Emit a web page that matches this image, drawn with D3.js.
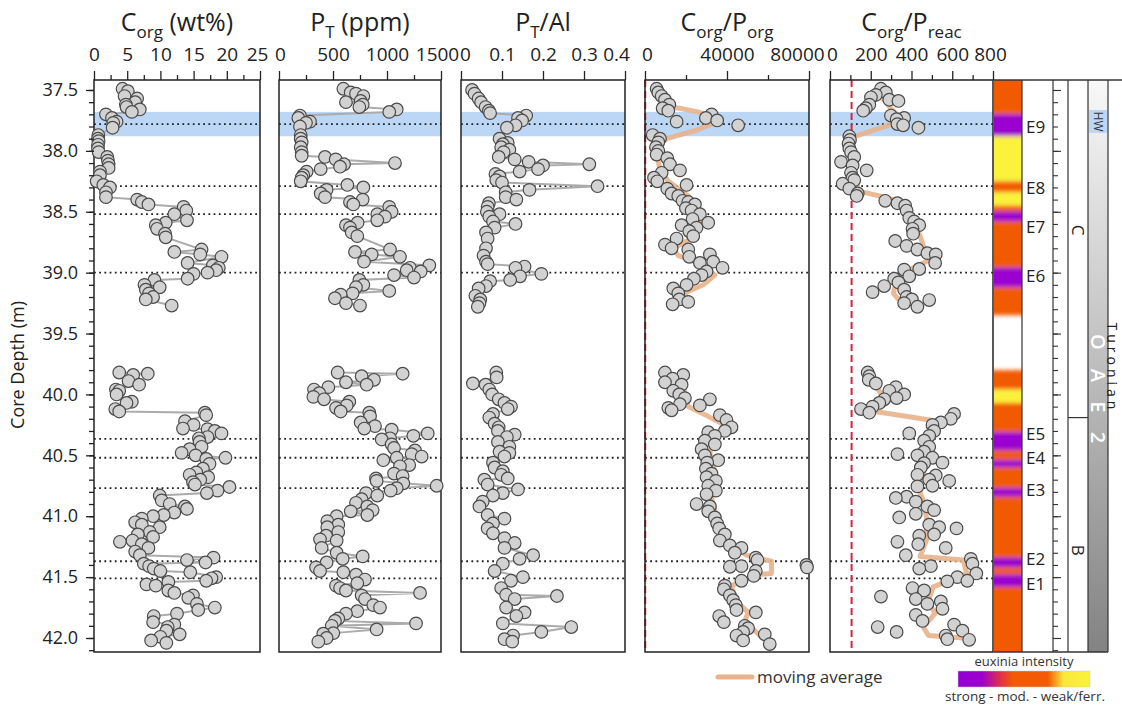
<!DOCTYPE html>
<html>
<head>
<meta charset="utf-8">
<script src="https://cdn.jsdelivr.net/npm/d3@7"></script>
<style>
body { margin: 0; background: #fff; }
svg { font-family: "Open Sans", sans-serif; }
</style>
</head>
<body>
<svg id="chart" width="1122" height="706"></svg>
<script>
// ---- data (depth in m) ----
var corgDepth = [37.49,37.51,37.55,37.57,37.60,37.62,37.64,37.66,37.68,37.70,37.73,37.76,37.77,37.81,37.87,37.90,37.92,37.95,37.98,38.01,38.05,38.08,38.11,38.14,38.17,38.20,38.25,38.28,38.30,38.34,38.38,38.40,38.42,38.44,38.46,38.49,38.52,38.57,38.59,38.61,38.64,38.68,38.71,38.81,38.83,38.85,38.87,38.92,38.94,38.96,38.98,39.00,39.01,39.05,39.06,39.10,39.12,39.14,39.17,39.20,39.22,39.27,
  39.82,39.83,39.84,39.89,39.92,39.96,39.97,40.00,40.06,40.07,40.12,40.14,40.15,40.17,40.22,40.25,40.28,40.285,40.30,40.32,40.35,40.36,40.39,40.43,40.45,40.48,40.50,40.52,40.53,40.57,40.61,40.64,40.66,40.68,40.70,40.72,40.74,40.76,40.79,40.81,40.83,40.87,40.90,40.92,40.94,40.97,40.99,41.00,41.02,41.05,41.07,41.09,41.13,41.15,41.17,41.20,41.21,41.23,41.26,41.29,41.32,41.34,41.36,41.38,41.39,41.41,41.43,41.45,41.46,41.50,41.51,41.53,41.54,41.56,41.57,41.61,41.63,41.65,41.67,41.72,41.75,41.77,41.80,41.82,41.87,41.89,41.91,41.94,41.97,41.99,42.02,42.04];
var corgVal = [4.3,5.1,4.6,6.5,6.2,4.8,4.9,6.9,5.7,1.8,2.7,3.4,2.9,2.8,0.65,0.6,0.7,0.6,0.6,0.7,2.0,2.1,2.2,2.2,0.9,0.9,0.4,1.4,2.4,1.8,1.8,6.5,7.2,8.2,13.5,13.9,12.1,14.0,10.8,9.3,9.5,10.7,10.8,16.2,12.1,16.0,19.2,14.1,17.9,18.8,18.4,17.1,15.0,14.1,9.1,7.6,9.9,7.8,8.3,8.9,7.8,11.7,
  3.8,8.1,5.9,5.2,6.8,3.3,3.8,3.4,5.7,4.9,3.2,3.8,16.7,16.9,13.7,15.0,13.4,17.1,18.2,19.2,17.1,15.8,15.9,16.2,14.4,13.2,15.3,19.8,16.9,17.4,16.4,15.4,14.4,17.2,16.0,14.9,15.2,20.4,18.6,17.0,9.9,10.2,11.4,13.7,14.0,12.1,10.5,8.9,7.2,6.2,7.2,9.9,8.4,6.6,8.9,5.8,3.9,7.2,8.2,6.2,6.9,18.0,14.0,16.8,7.5,8.3,9.0,10.0,14.5,18.4,17.7,16.9,11.2,7.9,9.3,11.2,12.1,14.9,14.2,15.5,18.2,15.7,12.5,9.0,8.9,12.1,11.1,10.9,12.9,10.0,8.6,10.9];

var ptDepth = [37.49,37.52,37.53,37.55,37.59,37.60,37.62,37.64,37.66,37.68,37.71,37.73,37.76,37.77,37.80,37.87,37.90,37.93,37.97,38.01,38.04,38.05,38.07,38.10,38.11,38.13,38.15,38.17,38.20,38.22,38.25,38.28,38.30,38.32,38.35,38.38,38.40,38.42,38.44,38.46,38.50,38.52,38.54,38.57,38.59,38.61,38.63,38.67,38.70,38.81,38.83,38.85,38.87,38.91,38.94,38.96,38.98,38.99,39.02,39.04,39.06,39.10,39.12,39.15,39.17,39.18,39.21,39.25,39.27,
  39.82,39.83,39.85,39.88,39.90,39.92,39.94,39.96,39.99,40.02,40.04,40.06,40.09,40.11,40.14,40.15,40.18,40.23,40.26,40.28,40.29,40.32,40.34,40.36,40.37,40.41,40.44,40.46,40.49,40.51,40.52,40.54,40.58,40.59,40.65,40.67,40.69,40.71,40.73,40.75,40.77,40.79,40.81,40.83,40.86,40.89,40.92,40.95,40.96,40.99,41.00,41.04,41.07,41.09,41.13,41.16,41.19,41.20,41.26,41.30,41.33,41.35,41.38,41.42,41.45,41.46,41.48,41.52,41.55,41.57,41.59,41.61,41.63,41.65,41.68,41.73,41.75,41.78,41.80,41.84,41.86,41.88,41.90,41.93,41.96,41.965,42.00,42.03];
var ptVal = [596,664,713,781,756,620,775,744,1090,1021,194,179,287,250,194,201,201,210,201,210,210,426,525,1074,602,565,386,256,225,210,201,633,781,441,386,426,775,657,688,1021,1043,910,981,910,728,620,657,673,725,1028,704,858,1120,787,1392,1213,1182,1312,1065,1250,744,781,713,1021,682,571,518,620,750,
  543,1145,765,880,620,812,457,324,373,318,417,651,627,528,571,836,843,756,889,790,1043,1377,1244,1028,951,1043,1065,1259,1228,1321,1090,966,1206,1120,1065,1145,898,904,1151,1460,1090,1034,806,910,765,713,818,867,664,818,534,447,549,447,549,436,380,534,395,534,775,590,441,343,380,596,713,796,725,528,565,620,1306,765,796,873,935,725,620,549,518,1269,488,904,503,410,441,364];

var alDepth = [37.50,37.53,37.57,37.60,37.64,37.67,37.69,37.71,37.73,37.75,37.79,37.81,37.90,37.935,37.945,37.97,37.99,38.01,38.05,38.07,38.09,38.11,38.12,38.15,38.17,38.19,38.21,38.24,38.26,38.29,38.32,38.34,38.38,38.40,38.43,38.46,38.50,38.52,38.54,38.58,38.60,38.63,38.67,38.72,38.80,38.86,38.91,38.93,38.95,38.96,39.01,39.03,39.06,39.07,39.11,39.13,39.19,39.22,39.25,39.28,
  39.82,39.86,39.91,39.92,39.96,40.00,40.04,40.07,40.10,40.12,40.16,40.19,40.24,40.27,40.30,40.33,40.35,40.39,40.43,40.47,40.48,40.51,40.56,40.60,40.63,40.66,40.69,40.70,40.74,40.78,40.81,40.83,40.88,40.92,40.99,41.02,41.06,41.10,41.14,41.18,41.22,41.26,41.32,41.35,41.39,41.45,41.50,41.53,41.59,41.645,41.655,41.68,41.75,41.79,41.82,41.88,41.91,41.95,41.98,42.01,42.03];
var alVal = [0.027,0.033,0.043,0.049,0.060,0.068,0.071,0.159,0.139,0.149,0.133,0.112,0.094,0.114,0.102,0.098,0.118,0.104,0.092,0.131,0.165,0.313,0.200,0.188,0.143,0.084,0.094,0.086,0.100,0.333,0.167,0.109,0.109,0.135,0.068,0.065,0.063,0.094,0.069,0.078,0.133,0.082,0.061,0.065,0.061,0.055,0.061,0.065,0.155,0.133,0.196,0.144,0.120,0.071,0.061,0.043,0.035,0.047,0.045,0.041,
  0.086,0.087,0.029,0.060,0.069,0.076,0.092,0.106,0.122,0.114,0.078,0.069,0.082,0.092,0.090,0.131,0.112,0.090,0.118,0.094,0.118,0.106,0.078,0.082,0.102,0.098,0.114,0.057,0.065,0.139,0.102,0.078,0.053,0.045,0.065,0.106,0.078,0.065,0.078,0.106,0.131,0.106,0.176,0.143,0.102,0.082,0.151,0.122,0.098,0.110,0.234,0.131,0.110,0.155,0.135,0.102,0.269,0.196,0.127,0.106,0.125];

var cpoDepth = [37.49,37.52,37.55,37.58,37.62,37.65,37.67,37.70,37.73,37.75,37.76,37.79,37.87,37.90,37.93,37.97,38.00,38.03,38.06,38.11,38.16,38.18,38.22,38.25,38.28,38.31,38.35,38.37,38.41,38.42,38.44,38.47,38.49,38.52,38.56,38.59,38.61,38.63,38.66,38.70,38.72,38.77,38.80,38.81,38.85,38.87,38.91,38.92,38.96,38.99,39.02,39.05,39.10,39.13,39.17,39.22,39.24,39.26,
  39.82,39.84,39.87,39.90,39.92,39.97,40.00,40.03,40.04,40.08,40.09,40.11,40.13,40.17,40.21,40.27,40.30,40.31,40.34,40.38,40.41,40.45,40.50,40.54,40.56,40.61,40.65,40.68,40.71,40.75,40.79,40.82,40.90,40.92,40.96,41.01,41.06,41.10,41.15,41.20,41.24,41.26,41.30,41.34,41.36,41.40,41.41,41.415,41.42,41.45,41.49,41.53,41.57,41.60,41.65,41.69,41.73,41.77,41.79,41.82,41.87,41.90,41.92,41.95,41.97,41.98,42.02,42.05];
var cpoVal = [5680,6490,8115,9740,11850,8600,11360,32460,29700,35200,15420,45440,3730,7300,6490,5360,6490,5680,10870,12170,17040,8115,4380,6000,20290,10870,12980,16230,18340,21100,24350,19960,22720,26780,23210,30840,17850,25160,21590,23530,15420,9740,12980,21100,31650,21590,33270,26780,37820,30030,27590,23860,20290,13800,16230,16720,21100,13470,
  9740,18660,13470,9740,17850,13800,16720,19480,31650,17040,26780,11360,12980,36520,39760,42200,38950,30840,34080,29210,34080,27590,29210,35700,30350,29700,32460,30030,34570,30840,34570,30030,25160,31650,30840,34080,35200,36190,38950,36520,41390,47070,43820,54050,54860,78720,47070,41390,79040,54050,53070,47070,38950,38460,41390,43010,44310,44630,54050,36190,38460,48690,50310,47880,58430,44630,47880,60860];
var cpoAvgDepth = [37.49,37.64,37.68,37.75,37.83,37.90,37.97,38.15,38.25,38.37,38.59,38.72,38.80,38.86,38.91,39.02,39.10,39.16,39.25,
  39.82,39.86,40.02,40.10,40.18,40.26,40.35,40.48,40.63,40.73,40.85,40.98,41.20,41.32,41.37,41.47,41.48,41.57,41.70,41.79,41.86,41.98];
var cpoAvg = [5680,13470,25970,36520,25160,10550,4870,7300,11360,21100,27590,22720,13800,16230,24350,34080,28400,20290,17850,
  17040,18660,19480,21100,30840,39760,33270,31650,34080,32460,32460,34570,39760,49500,61670,61670,54370,42200,44630,50310,48690,55990];

var cprDepth = [37.49,37.52,37.54,37.56,37.58,37.59,37.62,37.65,37.67,37.71,37.73,37.74,37.78,37.79,37.81,37.88,37.91,37.94,37.98,38.01,38.05,38.09,38.12,38.16,38.18,38.22,38.24,38.27,38.31,38.35,38.37,38.41,38.43,38.45,38.49,38.55,38.58,38.61,38.64,38.68,38.74,38.78,38.81,38.84,38.85,38.92,38.97,38.975,39.03,39.05,39.08,39.11,39.14,39.16,39.20,39.22,39.225,39.25,39.28,
  39.82,39.85,39.88,39.91,39.94,39.97,40.00,40.03,40.04,40.07,40.10,40.12,40.15,40.16,40.20,40.23,40.25,40.30,40.32,40.34,40.38,40.43,40.47,40.49,40.50,40.52,40.56,40.565,40.60,40.66,40.665,40.70,40.71,40.75,40.755,40.84,40.85,40.88,40.92,40.95,40.98,41.01,41.07,41.09,41.10,41.15,41.16,41.21,41.23,41.26,41.32,41.35,41.39,41.41,41.43,41.47,41.50,41.53,41.535,41.59,41.61,41.66,41.68,41.70,41.72,41.76,41.81,41.86,41.89,41.91,41.94,41.95,41.98,42.01,42.015];
var cprVal = [250,274,225,201,291,336,193,176,163,299,364,327,331,359,434,95,98,91,95,103,119,54,111,180,103,111,119,62,95,136,131,271,331,369,376,389,413,438,405,408,320,376,429,478,519,516,438,364,389,315,336,266,364,209,376,402,487,364,429,
  185,193,190,225,323,291,364,327,266,242,209,152,193,609,593,544,503,511,389,487,462,487,462,331,429,503,552,462,446,429,519,487,585,503,429,376,323,421,478,511,421,340,487,536,621,511,438,331,433,568,372,691,699,495,438,718,625,674,576,405,462,250,421,544,478,552,421,454,609,234,650,327,568,576,683];
var cprAvgDepth = [37.56,37.66,37.75,37.88,37.97,38.07,38.33,38.38,38.43,38.57,38.70,38.90,39.00,39.06,39.17,39.25,
  39.83,39.96,40.07,40.14,40.21,40.35,40.48,40.65,40.81,40.87,41.03,41.19,41.33,41.36,41.47,41.58,41.69,41.80,41.91,41.98,42.00];
var cprAvg = [254,303,360,123,98,106,139,270,360,409,442,483,360,327,311,352,
  196,237,278,221,491,507,442,458,442,458,475,475,442,654,671,507,483,515,458,483,654];

// euxinia strip intervals (top, base, class)
var euxTop = [37.30,37.70,37.88,38.25,38.34,38.45,38.50,38.58,38.96,39.12,39.80,39.96,40.07,40.31,40.46,40.54,40.60,40.77,40.84,41.34,41.42,41.48,41.58];
var euxBase = [37.70,37.88,38.25,38.34,38.45,38.50,38.58,38.96,39.12,39.35,39.96,40.07,40.31,40.46,40.54,40.60,40.77,40.84,41.34,41.42,41.48,41.58,42.30];
var euxClass = ["mod","strong","weak","mod","weak","mod","strong","mod","strong","mod","mod","weak","mod","strong","mod","strong","mod","strong","mod","strong","mod","strong","mod"];

var eventDepth = [37.78,38.29,38.52,39.00,40.365,40.52,40.77,41.37,41.51];
var eventName = ["E9","E8","E7","E6","E5","E4","E3","E2","E1"];
var eventLabelDepth = [37.80,38.30,38.62,39.02,40.32,40.52,40.78,41.35,41.55];
var hwBand = [37.68, 37.88];
var redfield = 106;
var unitBase = [40.19, 42.115];
var unitName = ["C", "B"];

// ---- layout ----
var svg = d3.select("#chart");
var plotTop = 80, plotBottom = 652;
var y = d3.scaleLinear().domain([37.418, 42.115]).range([plotTop, plotBottom]);

var euxColor = { strong: "#9a00cf", mod: "#f25a05", weak: "#faf23a" };

function pts(depth, val) {
  return depth.map(function(d, i) { return { d: d, v: val[i] }; });
}
function segments(arr) {
  var out = [[]];
  arr.forEach(function(p, i) {
    if (i > 0 && p.d - arr[i - 1].d > 0.3) out.push([]);
    out[out.length - 1].push(p);
  });
  return out;
}

var panels = [
  { x0: 94, x1: 260, max: 25, labels: [0,5,10,15,20,25], minor: [2.5,7.5,12.5,17.5,22.5], shift: [0, -3],
    title: [["C",0],["org",1],[" (wt%)",0]], data: pts(corgDepth, corgVal), link: true },
  { x0: 279, x1: 441, max: 1500, labels: [0,500,1000,1500], minor: [250,750,1250], shift: [1, -4],
    title: [["P",0],["T",1],[" (ppm)",0]], data: pts(ptDepth, ptVal), link: true },
  { x0: 461, x1: 625, max: 0.4, labels: [0,0.1,0.2,0.3,0.4], minor: [], shift: [4, -9],
    title: [["P",0],["T",1],["/Al",0]], data: pts(alDepth, alVal), link: true },
  { x0: 645, x1: 809, max: 80000, labels: [0,40000,80000], minor: [20000,60000], shift: [2, -12],
    title: [["C",0],["org",1],["/P",0],["org",1]], data: pts(cpoDepth, cpoVal),
    avg: pts(cpoAvgDepth, cpoAvg), red: true },
  { x0: 830, x1: 993, max: 800, labels: [0,200,400,600,800], minor: [100,300,500,700], shift: [2, -3],
    title: [["C",0],["org",1],["/P",0],["reac",1]], data: pts(cprDepth, cprVal),
    avg: pts(cprAvgDepth, cprAvg), red: true }
];

var defs = svg.append("defs");
defs.append("filter").attr("id", "blurY")
  .attr("x", "-0.1").attr("y", "-0.1").attr("width", "1.2").attr("height", "1.2")
  .append("feGaussianBlur").attr("stdDeviation", "0 2.2");
defs.append("clipPath").attr("id", "stripClip")
  .append("rect").attr("x", 994).attr("y", plotTop).attr("width", 28).attr("height", plotBottom - plotTop);
var gGray = defs.append("linearGradient").attr("id", "grayGrad")
  .attr("x1", 0).attr("y1", 0).attr("x2", 0).attr("y2", 1);
gGray.append("stop").attr("offset", "0%").attr("stop-color", "#f8f8f8");
gGray.append("stop").attr("offset", "100%").attr("stop-color", "#838383");
var gEux = defs.append("linearGradient").attr("id", "euxGrad");
[["0%","#9400d3"],["18%","#9c00cc"],["32%","#e0304a"],["42%","#f25a05"],["68%","#f25a05"],["80%","#fbe83a"],["100%","#faf23a"]]
  .forEach(function(s) { gEux.append("stop").attr("offset", s[0]).attr("stop-color", s[1]); });

var line = d3.line().x(function(p) { return p.x; }).y(function(p) { return y(p.d); });

panels.forEach(function(P) {
  var x = d3.scaleLinear().domain([0, P.max]).range([P.x0, P.x1]);
  var g = svg.append("g");
  var w = P.x1 - P.x0;

  g.append("rect").attr("x", P.x0).attr("width", w)
    .attr("y", y(hwBand[0])).attr("height", y(hwBand[1]) - y(hwBand[0]))
    .attr("fill", "#bcd6f5");

  g.selectAll(".ev").data(eventDepth).enter().append("line")
    .attr("x1", P.x0).attr("x2", P.x1)
    .attr("y1", function(d) { return y(d); }).attr("y2", function(d) { return y(d); })
    .attr("stroke", "#222").attr("stroke-width", 1.8).attr("stroke-dasharray", "1.8,3.4");

  if (P.red) {
    g.append("line").attr("x1", x(redfield)).attr("x2", x(redfield))
      .attr("y1", plotTop).attr("y2", plotBottom)
      .attr("stroke", "#d2263a").attr("stroke-width", 2).attr("stroke-dasharray", "7,4");
  }

  g.append("rect").attr("x", P.x0).attr("y", plotTop).attr("width", w).attr("height", plotBottom - plotTop)
    .attr("fill", "none").attr("stroke", "#222").attr("stroke-width", 1.5);

  if (P.avg) {
    segments(P.avg).forEach(function(seg) {
      g.append("path").datum(seg.map(function(p) { return { x: x(p.v), d: p.d }; }))
        .attr("d", line).attr("fill", "none").attr("stroke", "#e8b28c")
        .attr("stroke-width", 5).attr("stroke-linejoin", "round").attr("stroke-linecap", "round")
        .attr("opacity", 0.9);
    });
  }
  if (P.link) {
    segments(P.data).forEach(function(seg) {
      g.append("path").datum(seg.map(function(p) { return { x: x(p.v), d: p.d }; }))
        .attr("d", line).attr("fill", "none").attr("stroke", "#ababab").attr("stroke-width", 2);
    });
  }
  g.selectAll("circle").data(P.data).enter().append("circle")
    .attr("cx", function(p) { return x(p.v); })
    .attr("cy", function(p) { return y(p.d); })
    .attr("r", 6.3).attr("fill", "#d2d2d2").attr("stroke", "#4a4a4a").attr("stroke-width", 1.2);

  // top axis
  var minorAx = d3.axisTop(x).tickValues(P.minor).tickSize(5).tickSizeOuter(0).tickFormat("");
  var majorAx = d3.axisTop(x).tickValues(P.labels).tickSize(9).tickSizeOuter(0).tickPadding(10)
    .tickFormat(function(d) { return String(d); });
  [minorAx, majorAx].forEach(function(ax) {
    var a = svg.append("g").attr("transform", "translate(0," + plotTop + ")").call(ax);
    a.select(".domain").remove();
    a.selectAll("line").attr("stroke", "#222").attr("stroke-width", 1.3);
    a.selectAll("text").attr("font-size", 19).attr("fill", "#222").attr("font-family", "Open Sans");
    a.selectAll(".tick").filter(function(d) { return d === 0; }).select("text").attr("x", P.shift[0]);
    a.selectAll(".tick").filter(function(d) { return d === P.max; }).select("text").attr("x", P.shift[1]);
  });

  // title
  var t = svg.append("text").attr("x", (P.x0 + P.x1) / 2).attr("y", 31)
    .attr("text-anchor", "middle").attr("font-size", 25).attr("fill", "#222");
  var sub = false;
  P.title.forEach(function(part) {
    var ts = t.append("tspan").text(part[0]);
    if (part[1] && !sub) { ts.attr("font-size", 17).attr("dy", 7); sub = true; }
    else if (!part[1] && sub) { ts.attr("font-size", 25).attr("dy", -7); sub = false; }
    else if (part[1]) { ts.attr("font-size", 17); }
  });
});

// depth axis
var yMajor = d3.axisLeft(y).tickValues(d3.range(37.5, 42.01, 0.5)).tickSize(8).tickPadding(8)
  .tickFormat(d3.format(".1f"));
var yMinor = d3.axisLeft(y).tickValues(d3.range(37.5, 42.11, 0.1)).tickSize(5).tickFormat("");
[yMinor, yMajor].forEach(function(ax) {
  var a = svg.append("g").attr("transform", "translate(94,0)").call(ax);
  a.select(".domain").remove();
  a.selectAll("line").attr("stroke", "#222").attr("stroke-width", 1.3);
  a.selectAll("text").attr("font-size", 18).attr("fill", "#222").attr("font-family", "Open Sans");
});
svg.append("text").attr("transform", "translate(24,365) rotate(-90)")
  .attr("text-anchor", "middle").attr("font-size", 18).attr("fill", "#222").text("Core Depth (m)");

// euxinia strip
var strip = svg.append("g").attr("clip-path", "url(#stripClip)")
  .append("g").attr("filter", "url(#blurY)");
strip.selectAll("rect").data(euxTop).enter().append("rect")
  .attr("x", 994).attr("width", 28)
  .attr("y", function(d) { return y(d); })
  .attr("height", function(d, i) { return y(euxBase[i]) - y(d); })
  .attr("fill", function(d, i) { return euxColor[euxClass[i]]; });

// right-hand columns
var rc = svg.append("g");
rc.append("rect").attr("x", 1088).attr("y", plotTop).attr("width", 20).attr("height", plotBottom - plotTop)
  .attr("fill", "url(#grayGrad)");
rc.append("rect").attr("x", 1089).attr("y", 110).attr("width", 18).attr("height", 23).attr("fill", "#bcd6f5");
[1022, 1053, 1068, 1088, 1108].forEach(function(xv) {
  rc.append("line").attr("x1", xv).attr("x2", xv).attr("y1", plotTop).attr("y2", plotBottom)
    .attr("stroke", "#333").attr("stroke-width", 1.2);
});
rc.append("line").attr("x1", 994).attr("x2", 1122).attr("y1", plotTop).attr("y2", plotTop)
  .attr("stroke", "#333").attr("stroke-width", 1.3);
rc.append("line").attr("x1", 994).attr("x2", 1108).attr("y1", plotBottom).attr("y2", plotBottom)
  .attr("stroke", "#333").attr("stroke-width", 1.3);
rc.selectAll(".ub").data(unitBase.slice(0, 1)).enter().append("line")
  .attr("x1", 1068).attr("x2", 1088).attr("y1", function(d) { return y(d); }).attr("y2", function(d) { return y(d); })
  .attr("stroke", "#333").attr("stroke-width", 1.2);
rc.selectAll(".un").data(unitName).enter().append("text")
  .attr("transform", function(d, i) {
    var mid = i === 0 ? 38.65 : 41.28;
    return "translate(1078," + y(mid) + ") rotate(90)";
  })
  .attr("text-anchor", "middle").attr("dominant-baseline", "central")
  .attr("font-size", 17).attr("fill", "#222").text(function(d) { return d; });

var eTickMinor = d3.axisRight(y).tickValues(d3.range(37.5, 42.11, 0.1)).tickSize(5).tickFormat("");
var eTickMajor = d3.axisRight(y).tickValues(d3.range(37.5, 42.01, 0.5)).tickSize(8).tickFormat("");
[eTickMinor, eTickMajor].forEach(function(ax) {
  var a = svg.append("g").attr("transform", "translate(1053,0)").call(ax);
  a.select(".domain").remove();
  a.selectAll("line").attr("stroke", "#333").attr("stroke-width", 1.1);
});

svg.selectAll(".elab").data(eventName).enter().append("text")
  .attr("x", 1026).attr("y", function(d, i) { return y(eventLabelDepth[i]); })
  .attr("dominant-baseline", "central").attr("font-size", 17).attr("fill", "#222")
  .text(function(d) { return d; });

svg.append("text").attr("transform", "translate(1098,121.5) rotate(90)")
  .attr("text-anchor", "middle").attr("dominant-baseline", "central")
  .attr("font-size", 12).attr("fill", "#333").text("HW");
svg.append("text").attr("transform", "translate(1098,392) rotate(90)")
  .attr("text-anchor", "middle").attr("dominant-baseline", "central")
  .attr("font-size", 20).attr("font-weight", 600).attr("letter-spacing", 7).attr("fill", "#fff").text("O A E 2");
svg.append("text").attr("transform", "translate(1112,368) rotate(90)")
  .attr("text-anchor", "middle").attr("dominant-baseline", "central")
  .attr("font-size", 14).attr("letter-spacing", 4).attr("fill", "#222").text("Turonian");

// legends
svg.append("line").attr("x1", 718).attr("x2", 752).attr("y1", 677).attr("y2", 677)
  .attr("stroke", "#e8b28c").attr("stroke-width", 5).attr("stroke-linecap", "round");
svg.append("text").attr("x", 757).attr("y", 683).attr("font-size", 17).attr("fill", "#333").text("moving average");

svg.append("text").attr("x", 1024).attr("y", 666).attr("text-anchor", "middle")
  .attr("font-size", 13).attr("fill", "#333").text("euxinia intensity");
svg.append("rect").attr("x", 958).attr("y", 671).attr("width", 132).attr("height", 16)
  .attr("fill", "url(#euxGrad)").attr("stroke", "#ccc").attr("stroke-width", 0.5);
svg.append("text").attr("x", 1025).attr("y", 701).attr("text-anchor", "middle")
  .attr("font-size", 13.5).attr("fill", "#333").text("strong - mod. - weak/ferr.");
</script>
</body>
</html>
